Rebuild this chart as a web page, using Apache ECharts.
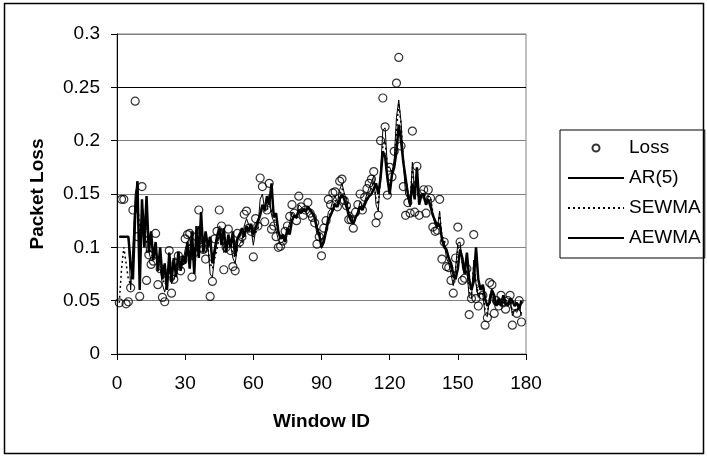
<!DOCTYPE html>
<html>
<head>
<meta charset="utf-8">
<script src="https://cdn.jsdelivr.net/npm/echarts@6/dist/echarts.min.js"></script>
<style>
  html, body { margin: 0; padding: 0; background: #fff; }
  #chart { width: 707px; height: 457px; }
</style>
</head>
<body>
<div id="chart"></div>
<script>
// one value per window, window IDs 1..178
const loss = [
  0.048, 0.145, 0.145, 0.047, 0.049, 0.062, 0.135, 0.237, 0.110, 0.054,
  0.157, 0.120, 0.069, 0.093, 0.084, 0.087, 0.113, 0.065, 0.080, 0.053,
  0.049, 0.075, 0.097, 0.057, 0.070, 0.085, 0.092, 0.078, 0.088, 0.108,
  0.112, 0.113, 0.072, 0.095, 0.110, 0.135, 0.100, 0.098, 0.089, 0.105,
  0.054, 0.068, 0.108, 0.115, 0.135, 0.120, 0.079, 0.100, 0.117, 0.097,
  0.082, 0.078, 0.113, 0.105, 0.110, 0.131, 0.134, 0.118, 0.115, 0.091,
  0.127, 0.120, 0.165, 0.157, 0.124, 0.135, 0.160, 0.117, 0.120, 0.110,
  0.100, 0.101, 0.106, 0.115, 0.120, 0.129, 0.140, 0.132, 0.125, 0.148,
  0.138, 0.130, 0.135, 0.142, 0.132, 0.128, 0.123, 0.103, 0.110, 0.092,
  0.118, 0.125, 0.145, 0.140, 0.151, 0.152, 0.138, 0.162, 0.164, 0.144,
  0.139, 0.126, 0.126, 0.118, 0.133, 0.140, 0.150, 0.135, 0.147, 0.155,
  0.160, 0.164, 0.171, 0.123, 0.130, 0.200, 0.240, 0.213, 0.149, 0.175,
  0.166, 0.190, 0.254, 0.278, 0.195, 0.157, 0.130, 0.142, 0.132, 0.209,
  0.133, 0.176, 0.130, 0.150, 0.154, 0.132, 0.154, 0.146, 0.119, 0.115,
  0.116, 0.145, 0.089, 0.105, 0.082, 0.081, 0.069, 0.057, 0.090, 0.119,
  0.105, 0.069, 0.071, 0.080, 0.037, 0.052, 0.112, 0.052, 0.045, 0.060,
  0.055, 0.027, 0.034, 0.067, 0.065, 0.038, 0.050, 0.045, 0.055, 0.048,
  0.042, 0.050, 0.055, 0.027, 0.045, 0.038, 0.050, 0.030
];
const ar5 = [
  0.110, 0.110, 0.110, 0.110, 0.110, 0.085, 0.070, 0.130, 0.162, 0.060,
  0.145, 0.100, 0.148, 0.095, 0.115, 0.088, 0.105, 0.078, 0.100, 0.070,
  0.085, 0.060, 0.095, 0.068, 0.090, 0.072, 0.096, 0.078, 0.092, 0.085,
  0.105, 0.080, 0.115, 0.075, 0.120, 0.090, 0.133, 0.095, 0.115, 0.100,
  0.110, 0.085, 0.098, 0.110, 0.118, 0.102, 0.118, 0.095, 0.112, 0.100,
  0.115, 0.092, 0.108, 0.112, 0.118, 0.110, 0.120, 0.115, 0.122, 0.112,
  0.118, 0.125, 0.130, 0.140, 0.135, 0.148, 0.140, 0.160, 0.128, 0.132,
  0.115, 0.108, 0.112, 0.105, 0.118, 0.112, 0.125, 0.130, 0.128, 0.135,
  0.132, 0.136, 0.134, 0.138, 0.135, 0.132, 0.128, 0.118, 0.112, 0.100,
  0.105, 0.115, 0.125, 0.130, 0.135, 0.140, 0.138, 0.145, 0.150, 0.145,
  0.138, 0.130, 0.125, 0.122, 0.128, 0.132, 0.138, 0.135, 0.140, 0.145,
  0.148, 0.150, 0.155, 0.160, 0.150, 0.165, 0.190, 0.185, 0.165, 0.150,
  0.168, 0.175, 0.190, 0.215, 0.200, 0.180, 0.165, 0.150, 0.140, 0.160,
  0.145, 0.175, 0.140, 0.150, 0.148, 0.140, 0.145, 0.138, 0.130, 0.125,
  0.120, 0.122, 0.108, 0.100, 0.098, 0.090, 0.085, 0.075, 0.070, 0.080,
  0.098, 0.090, 0.075, 0.095, 0.070, 0.060, 0.068, 0.100, 0.070, 0.060,
  0.065, 0.052, 0.045, 0.048, 0.060, 0.055, 0.045, 0.052, 0.045, 0.055,
  0.048, 0.045, 0.052, 0.050, 0.045, 0.048, 0.042, 0.050
];
const sewma = [
  0.048, 0.080, 0.100, 0.085, 0.070, 0.065, 0.090, 0.140, 0.150, 0.110,
  0.130, 0.125, 0.105, 0.100, 0.094, 0.090, 0.098, 0.085, 0.083, 0.072,
  0.065, 0.068, 0.078, 0.070, 0.070, 0.075, 0.080, 0.079, 0.082, 0.090,
  0.098, 0.103, 0.092, 0.093, 0.098, 0.110, 0.106, 0.103, 0.098, 0.100,
  0.085, 0.080, 0.090, 0.098, 0.110, 0.113, 0.100, 0.100, 0.106, 0.103,
  0.095, 0.090, 0.098, 0.100, 0.104, 0.113, 0.120, 0.119, 0.118, 0.108,
  0.114, 0.116, 0.132, 0.140, 0.134, 0.134, 0.142, 0.133, 0.128, 0.122,
  0.114, 0.110, 0.108, 0.110, 0.114, 0.119, 0.127, 0.129, 0.127, 0.135,
  0.136, 0.134, 0.134, 0.137, 0.135, 0.132, 0.129, 0.119, 0.116, 0.106,
  0.110, 0.116, 0.127, 0.132, 0.139, 0.144, 0.141, 0.149, 0.155, 0.150,
  0.146, 0.138, 0.133, 0.127, 0.129, 0.133, 0.140, 0.138, 0.141, 0.146,
  0.151, 0.156, 0.162, 0.145, 0.140, 0.165, 0.195, 0.200, 0.175, 0.175,
  0.170, 0.178, 0.210, 0.235, 0.215, 0.185, 0.160, 0.152, 0.143, 0.175,
  0.155, 0.166, 0.148, 0.149, 0.151, 0.142, 0.148, 0.147, 0.133, 0.124,
  0.120, 0.132, 0.110, 0.108, 0.095, 0.088, 0.078, 0.068, 0.079, 0.099,
  0.102, 0.085, 0.078, 0.079, 0.058, 0.055, 0.084, 0.068, 0.056, 0.058,
  0.056, 0.041, 0.038, 0.053, 0.059, 0.048, 0.049, 0.047, 0.051, 0.049,
  0.045, 0.048, 0.051, 0.039, 0.042, 0.040, 0.045, 0.038
];
const aewma = [
  0.110, 0.110, 0.110, 0.110, 0.110, 0.060, 0.100, 0.150, 0.160, 0.090,
  0.140, 0.128, 0.095, 0.096, 0.088, 0.088, 0.102, 0.078, 0.080, 0.065,
  0.058, 0.068, 0.085, 0.066, 0.070, 0.078, 0.085, 0.080, 0.085, 0.098,
  0.105, 0.109, 0.088, 0.092, 0.102, 0.120, 0.108, 0.102, 0.095, 0.101,
  0.075, 0.072, 0.092, 0.104, 0.120, 0.118, 0.095, 0.098, 0.110, 0.102,
  0.090, 0.085, 0.100, 0.103, 0.107, 0.120, 0.127, 0.121, 0.117, 0.102,
  0.116, 0.118, 0.145, 0.150, 0.135, 0.135, 0.150, 0.130, 0.124, 0.116,
  0.107, 0.104, 0.105, 0.111, 0.116, 0.123, 0.133, 0.132, 0.128, 0.140,
  0.138, 0.134, 0.135, 0.139, 0.135, 0.131, 0.126, 0.112, 0.111, 0.099,
  0.110, 0.118, 0.133, 0.136, 0.144, 0.148, 0.142, 0.154, 0.160, 0.151,
  0.144, 0.134, 0.130, 0.123, 0.128, 0.134, 0.143, 0.138, 0.143, 0.150,
  0.156, 0.161, 0.167, 0.140, 0.134, 0.172, 0.210, 0.212, 0.175, 0.175,
  0.170, 0.182, 0.222, 0.238, 0.218, 0.180, 0.150, 0.146, 0.138, 0.180,
  0.150, 0.165, 0.143, 0.147, 0.151, 0.140, 0.148, 0.147, 0.130, 0.121,
  0.118, 0.134, 0.105, 0.105, 0.090, 0.085, 0.075, 0.064, 0.080, 0.104,
  0.105, 0.082, 0.075, 0.078, 0.053, 0.052, 0.088, 0.065, 0.053, 0.057,
  0.056, 0.037, 0.035, 0.055, 0.061, 0.046, 0.048, 0.046, 0.051, 0.049,
  0.045, 0.048, 0.052, 0.036, 0.041, 0.039, 0.045, 0.036
];

const font = 'Liberation Sans, Arial, Helvetica, sans-serif';
const withIds = arr => arr.map((v, i) => [i + 1, v]);
// line series draw no symbols; keep the legend icon a plain line too
const noSymbol = {color: 'rgba(0,0,0,0)', borderColor: 'rgba(0,0,0,0)', borderWidth: 0};

const chart = echarts.init(document.getElementById('chart'));
chart.setOption({
  animation: false,
  backgroundColor: '#fff',
  textStyle: {fontFamily: font},
  graphic: [{
    type: 'rect',
    shape: {x: 4.5, y: 3.5, width: 699, height: 450},
    style: {fill: 'none', stroke: '#000', lineWidth: 1.5},
    silent: true,
    z: -1
  }],
  grid: {
    left: 117,
    right: 181,
    top: 34,
    bottom: 103,
    show: true,
    borderColor: '#808080',
    borderWidth: 1
  },
  legend: {
    orient: 'vertical',
    left: 560,
    top: 130,
    padding: [7, 4, 9, 7],
    itemWidth: 56,
    itemHeight: 7,
    itemGap: 8,
    borderColor: '#000',
    borderWidth: 1,
    textStyle: {fontFamily: font, fontSize: 19, color: '#000', lineHeight: 22},
    data: ['Loss', 'AR(5)', 'SEWMA', 'AEWMA']
  },
  xAxis: {
    type: 'value',
    min: 0,
    max: 180,
    interval: 30,
    name: 'Window ID',
    nameLocation: 'middle',
    nameGap: 58,
    nameTextStyle: {fontFamily: font, fontSize: 19, fontWeight: 'bold', color: '#000'},
    axisLine: {show: true, lineStyle: {color: '#000', width: 1}},
    axisTick: {show: true, length: 6, lineStyle: {color: '#000'}},
    axisLabel: {fontFamily: font, fontSize: 19, color: '#000', margin: 20},
    splitLine: {show: false}
  },
  yAxis: {
    type: 'value',
    min: 0,
    max: 0.3,
    interval: 0.05,
    name: 'Packet Loss',
    nameLocation: 'middle',
    nameGap: 70,
    nameTextStyle: {fontFamily: font, fontSize: 19, fontWeight: 'bold', color: '#000'},
    axisLine: {show: true, lineStyle: {color: '#000', width: 1}},
    axisTick: {show: true, length: 6, lineStyle: {color: '#000'}},
    axisLabel: {fontFamily: font, fontSize: 19, color: '#000', margin: 17},
    splitLine: {
      show: true,
      lineStyle: {
        color: ['#808080', '#808080', '#808080', '#808080', '#808080', '#000', '#808080'],
        width: 1
      }
    }
  },
  series: [
    {
      name: 'Loss',
      type: 'scatter',
      data: withIds(loss),
      symbol: 'circle',
      symbolSize: 8,
      itemStyle: {color: 'rgba(255,255,255,0)', borderColor: '#000', borderWidth: 1.2},
      z: 2
    },
    {
      name: 'AR(5)',
      type: 'line',
      data: withIds(ar5),
      symbol: 'none',
      itemStyle: noSymbol,
      lineStyle: {color: '#000', width: 2.5},
      z: 3
    },
    {
      name: 'SEWMA',
      type: 'line',
      data: withIds(sewma),
      symbol: 'none',
      itemStyle: noSymbol,
      lineStyle: {color: '#000', width: 1.5, type: [2, 3]},
      z: 3
    },
    {
      name: 'AEWMA',
      type: 'line',
      data: withIds(aewma),
      symbol: 'none',
      itemStyle: noSymbol,
      lineStyle: {color: '#000', width: 1},
      z: 3
    }
  ]
});
</script>
</body>
</html>
